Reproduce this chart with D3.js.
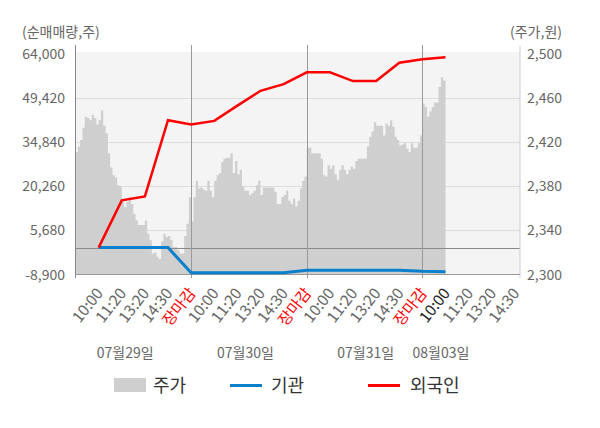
<!DOCTYPE html>
<html><head><meta charset="utf-8">
<script src="https://cdn.jsdelivr.net/npm/d3@7/dist/d3.min.js"></script>
<style>
html,body{margin:0;padding:0;background:#fff;}
svg{display:block;font-family:"Noto Sans CJK KR","Noto Sans",sans-serif;}
</style></head>
<body>
<svg id="chart" width="600" height="428"></svg>
<script>
// ---- data ----
const dayLabels = ["07월29일", "07월30일", "07월31일", "08월03일"];
const dayLabelPos = [2.15, 7.35, 12.55, 15.8];
const timeLabels = ["10:00", "11:20", "13:20", "14:30", "장마감"];
const leftTicks = [-8900, 5680, 20260, 34840, 49420, 64000];
const rightTicks = [2300, 2340, 2380, 2420, 2460, 2500];
// hourly net buying (k index 1..16)
const flowIndex = [1, 2, 3, 4, 5, 6, 7, 8, 9, 10, 11, 12, 13, 14, 15, 16];
const foreignNet = [0, 15610, 16930, 42120, 40700, 41890, 46920, 51830, 54050, 57930, 57930, 55040, 55040, 61110, 62240, 62900];
const instNet = [0, 0, 0, 0, -8350, -8350, -8350, -8350, -8350, -7500, -7500, -7500, -7500, -7500, -7820, -7950];
// stock price samples (10 per hour-unit)
const day1Price = [2411,2416,2422,2433,2443,2442,2440,2445,2442,2436,2440,2449,2435,2428,2410,2397,2390,2388,2381,2380,2367,2361,2366,2370,2364,2355,2349,2345,2345,2345,2349,2337,2331,2319,2320,2316,2314,2330,2337,2334,2335,2331,2325,2325,2322,2319,2319,2335,2346,2370];
const day2Price = [2348,2370,2385,2378,2379,2377,2376,2385,2376,2370,2385,2390,2392,2402,2405,2406,2406,2410,2392,2403,2391,2395,2380,2376,2376,2372,2374,2376,2381,2385,2372,2379,2379,2379,2379,2379,2375,2364,2364,2370,2372,2376,2367,2364,2369,2362,2367,2378,2385,2389];
const day3Price = [2415,2415,2410,2410,2410,2410,2405,2390,2389,2399,2396,2399,2391,2386,2395,2399,2395,2391,2395,2398,2396,2403,2405,2405,2405,2405,2416,2425,2430,2438,2435,2435,2435,2426,2437,2435,2440,2434,2425,2422,2417,2418,2419,2414,2411,2419,2415,2415,2419,2426];
const day4Price = [2455,2452,2443,2448,2452,2456,2456,2470,2479,2476];

// ---- build ----
const svg = d3.select("#chart");
const L = 75.5, R = 520, T = 52, B = 274.5;
const x = d3.scaleLinear().domain([0, 19.22]).range([L, R]);
const yL = d3.scaleLinear().domain([-8900, 64000]).range([274.5, 54]);
const yR = d3.scaleLinear().domain([2300, 2500]).range([274.5, 54]);

const priceData = [];
[day1Price, day2Price, day3Price, day4Price].forEach((arr, d) => {
  arr.forEach((v, i) => priceData.push({k: d * 5 + i * 0.1, v}));
});
const lastP = priceData[priceData.length - 1];
priceData.push({k: 15 + day4Price.length * 0.1, v: lastP.v});

svg.append("rect").attr("x", L).attr("y", T).attr("width", R - L).attr("height", B - T).attr("fill", "#f4f4f4");

// grid
svg.append("g").selectAll("line").data(leftTicks.slice(1, -1)).join("line")
  .attr("x1", L).attr("x2", R).attr("y1", d => Math.round(yL(d)) + 0.5).attr("y2", d => Math.round(yL(d)) + 0.5)
  .attr("stroke", "#dcdcdc").attr("stroke-width", 1);

// price area
svg.append("path").datum(priceData)
  .attr("d", d3.area().curve(d3.curveStepAfter).x(d => x(d.k)).y0(yR(2300)).y1(d => yR(d.v)))
  .attr("fill", "#cfcfcf");

// zero line
svg.append("line").attr("x1", L).attr("x2", R).attr("y1", Math.round(yL(0)) + 0.5).attr("y2", Math.round(yL(0)) + 0.5)
  .attr("stroke", "#8a8a8a").attr("stroke-width", 1);

// day separators
svg.append("g").selectAll("line").data([5, 10, 15]).join("line")
  .attr("x1", d => Math.round(x(d)) + 0.5).attr("x2", d => Math.round(x(d)) + 0.5)
  .attr("y1", 45).attr("y2", 278).attr("stroke", "#999").attr("stroke-width", 1);

// axes lines
svg.append("line").attr("x1", L).attr("x2", L).attr("y1", 45).attr("y2", 278).attr("stroke", "#888");
svg.append("line").attr("x1", R).attr("x2", R).attr("y1", 46).attr("y2", 278).attr("stroke", "#cfcfcf");
svg.append("line").attr("x1", L).attr("x2", R).attr("y1", B).attr("y2", B).attr("stroke", "#999");

// lines
const lineGen = d3.line().x(d => x(d.k)).y(d => yL(d.v));
const instData = flowIndex.map((k, i) => ({k, v: instNet[i]}));
const forData = flowIndex.map((k, i) => ({k, v: foreignNet[i]}));
svg.append("path").datum(instData).attr("d", lineGen).attr("fill", "none")
  .attr("stroke", "#0a7fcc").attr("stroke-width", 3);
svg.append("path").datum(forData).attr("d", lineGen).attr("fill", "none")
  .attr("stroke", "#ff0000").attr("stroke-width", 2.5);

// left ticks
svg.append("g").selectAll("text").data(leftTicks).join("text")
  .attr("x", 65).attr("y", d => yL(d)).attr("dy", "0.36em").attr("text-anchor", "end")
  .attr("font-size", 14).attr("fill", "#666").text(d => d3.format(",")(d).replace("−", "-"));
// right ticks
svg.append("g").selectAll("text").data(rightTicks).join("text")
  .attr("x", 527).attr("y", d => yR(d)).attr("dy", "0.36em").attr("text-anchor", "start")
  .attr("font-size", 14).attr("fill", "#666").text(d => d3.format(",")(d));

// axis titles
svg.append("text").attr("x", 22).attr("y", 37).attr("font-size", 14).attr("fill", "#666").text("(순매매량,주)");
svg.append("text").attr("x", 562).attr("y", 37).attr("text-anchor", "end").attr("font-size", 14).attr("fill", "#666").text("(주가,원)");

// x tick labels
const xLabels = [];
for (let d = 0; d < 4; d++) {
  timeLabels.forEach((t, i) => {
    const k = d * 5 + i + 1;
    if (d === 3 && i === 4) return;
    let color = "#666";
    if (t === "장마감") color = "#ff0000";
    if (d === 3 && i === 0) color = "#222";
    xLabels.push({k, t, color});
  });
}
svg.append("g").selectAll("text").data(xLabels).join("text")
  .attr("transform", d => `translate(${x(d.k) + 1},${290}) rotate(-52)`)
  .attr("text-anchor", "end").attr("dy", "0.35em")
  .attr("font-size", 15.5).attr("fill", d => d.color).text(d => d.t);

// date labels
svg.append("g").selectAll("text").data(dayLabels).join("text")
  .attr("x", (d, i) => x(dayLabelPos[i])).attr("y", 358).attr("text-anchor", "middle")
  .attr("font-size", 14).attr("fill", "#666").text(d => d);

// legend
const lg = svg.append("g");
lg.append("rect").attr("x", 114).attr("y", 378).attr("width", 32).attr("height", 14).attr("fill", "#cfcfcf");
lg.append("text").attr("x", 153).attr("y", 392).attr("font-size", 18).attr("fill", "#333").text("주가");
lg.append("line").attr("x1", 230).attr("x2", 262).attr("y1", 385.5).attr("y2", 385.5).attr("stroke", "#0a7fcc").attr("stroke-width", 3);
lg.append("text").attr("x", 271).attr("y", 392).attr("font-size", 18).attr("fill", "#333").text("기관");
lg.append("line").attr("x1", 368).attr("x2", 400).attr("y1", 385.5).attr("y2", 385.5).attr("stroke", "#ff0000").attr("stroke-width", 3);
lg.append("text").attr("x", 410).attr("y", 392).attr("font-size", 18).attr("fill", "#333").text("외국인");
</script>
</body></html>
